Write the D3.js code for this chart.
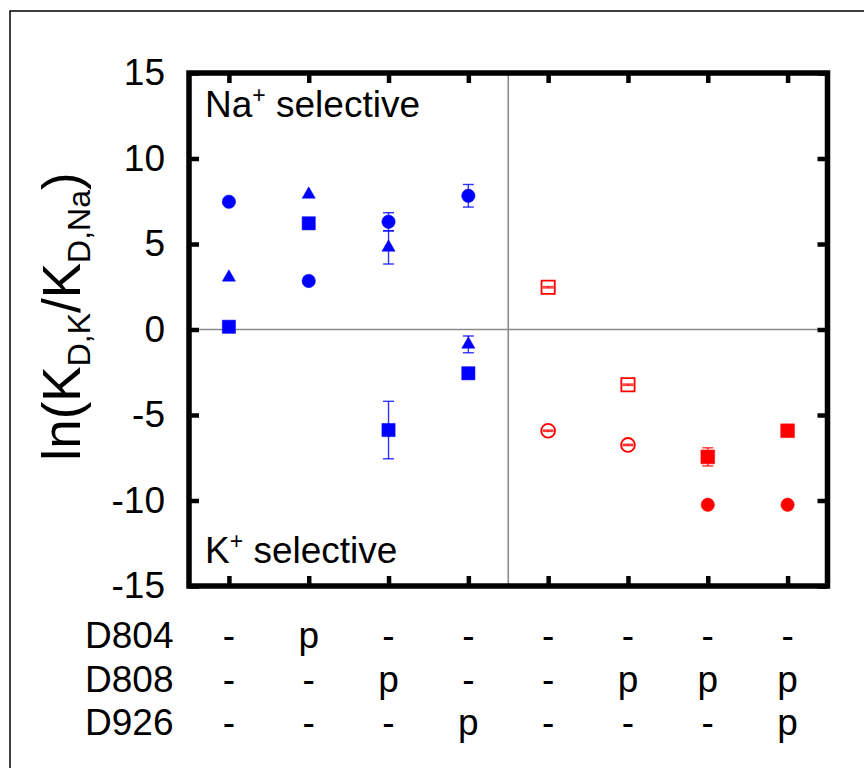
<!DOCTYPE html>
<html>
<head>
<meta charset="utf-8">
<script src="https://cdn.jsdelivr.net/npm/d3@7"></script>
<style>
  html, body { margin: 0; padding: 0; background: #fff; }
  svg { display: block; font-family: "Liberation Sans", Arial, Helvetica, sans-serif; }
</style>
</head>
<body>
<svg id="chart" width="864" height="768"></svg>
<script>
// ---- data ----
const columns = [1, 2, 3, 4, 5, 6, 7, 8];
const yTicks = [-15, -10, -5, 0, 5, 10, 15];
const yTickLabels = ["-15", "-10", "-5", "0", "5", "10", "15"];

// Blue (Na+ selective side)
const blueCircleX = [1, 2, 3, 4];
const blueCircleY = [7.47, 2.84, 6.3, 7.82];
const blueCircleErr = [0, 0, 0.53, 0.66];

const blueTriangleX = [1, 2, 3, 4];
const blueTriangleY = [3.05, 7.9, 4.8, -0.87];
const blueTriangleErr = [0, 0, 0.97, 0.49];

const blueSquareX = [1, 2, 3, 4];
const blueSquareY = [0.16, 6.21, -5.88, -2.56];
const blueSquareErr = [0, 0, 1.68, 0];

// Red (K+ selective side)
const redOpenSquareX = [5, 6];
const redOpenSquareY = [2.47, -3.23];
const redOpenSquareErr = [0.04, 0.04];

const redOpenCircleX = [5, 6];
const redOpenCircleY = [-5.92, -6.75];
const redOpenCircleErr = [0.04, 0.04];

const redSquareX = [7, 8];
const redSquareY = [-7.45, -5.92];
const redSquareErr = [0.53, 0];

const redCircleX = [7, 8];
const redCircleY = [-10.25, -10.25];
const redCircleErr = [0, 0];

// Mutation table
const rowLabels = ["D804", "D808", "D926"];
const rowD804 = ["-", "p", "-", "-", "-", "-", "-", "-"];
const rowD808 = ["-", "-", "p", "-", "-", "p", "p", "p"];
const rowD926 = ["-", "-", "-", "p", "-", "-", "-", "p"];
const tableRows = [rowD804, rowD808, rowD926];

// ---- layout ----
const svg = d3.select("#chart");
const x = d3.scaleLinear().domain([0.5, 8.5]).range([189, 827.5]);
const y = d3.scaleLinear().domain([-15, 15]).range([586, 73]);
const BLUE = "#0000ff", RED = "#ff0000";

// outer thin border
svg.append("rect").attr("x", 10).attr("y", 11).attr("width", 900).attr("height", 800)
  .attr("fill", "none").attr("stroke", "#000").attr("stroke-width", 1.5);

// gray reference lines
svg.append("line").attr("x1", x(0.5)).attr("x2", x(8.5)).attr("y1", y(0)).attr("y2", y(0))
  .attr("stroke", "#8a8a8a").attr("stroke-width", 1.6);
svg.append("line").attr("x1", x(4.5)).attr("x2", x(4.5)).attr("y1", y(15)).attr("y2", y(-15))
  .attr("stroke", "#8a8a8a").attr("stroke-width", 1.6);

// axes (ticks inward)
function styleAxis(g) {
  g.select(".domain").remove();
  g.selectAll(".tick line").attr("stroke", "#000").attr("stroke-width", 4.5);
  g.selectAll(".tick text").attr("fill", "#000")
    .style("font-family", "'Liberation Sans', Arial, sans-serif").style("font-size", "37px");
}
svg.append("g").attr("transform", `translate(${x(0.5)},0)`)
  .call(d3.axisLeft(y).tickValues(yTicks).tickSize(-10).tickPadding(24)
    .tickFormat((d, i) => yTickLabels[i]))
  .call(styleAxis);
svg.append("g").attr("transform", `translate(${x(8.5)},0)`)
  .call(d3.axisRight(y).tickValues(yTicks).tickSize(-10).tickFormat(""))
  .call(styleAxis);
svg.append("g").attr("transform", `translate(0,${y(15)})`)
  .call(d3.axisTop(x).tickValues(columns).tickSize(-10).tickFormat(""))
  .call(styleAxis);
svg.append("g").attr("transform", `translate(0,${y(-15)})`)
  .call(d3.axisBottom(x).tickValues(columns).tickSize(-10).tickFormat(""))
  .call(styleAxis);

// frame
svg.append("rect").attr("x", x(0.5)).attr("y", y(15))
  .attr("width", x(8.5) - x(0.5)).attr("height", y(-15) - y(15))
  .attr("fill", "none").attr("stroke", "#000").attr("stroke-width", 5.5);

// series drawing
function drawSeries(xs, ys, errs, color, symbolType, size, filled) {
  const data = xs.map((xv, i) => ({ x: xv, y: ys[i], e: errs[i] }));
  const g = svg.append("g");
  const eb = g.selectAll(".eb").data(data.filter(d => d.e > 0)).join("g");
  const capW = 5.5;
  eb.append("line").attr("x1", d => x(d.x)).attr("x2", d => x(d.x))
    .attr("y1", d => y(d.y + d.e)).attr("y2", d => y(d.y - d.e))
    .attr("stroke", color).attr("stroke-width", 1.4).attr("stroke-opacity", 0.8);
  [1, -1].forEach(s => {
    eb.append("line").attr("x1", d => x(d.x) - capW).attr("x2", d => x(d.x) + capW)
      .attr("y1", d => y(d.y + s * d.e)).attr("y2", d => y(d.y + s * d.e))
      .attr("stroke", color).attr("stroke-width", 1.4).attr("stroke-opacity", 0.8);
  });
  g.selectAll("path.m").data(data).join("path").attr("class", "m")
    .attr("d", d3.symbol().type(symbolType).size(size))
    .attr("transform", d => `translate(${x(d.x)},${y(d.y)})`)
    .attr("fill", filled ? color : "none")
    .attr("stroke", color).attr("stroke-width", filled ? 0.5 : 1.8);
}

drawSeries(blueCircleX, blueCircleY, blueCircleErr, BLUE, d3.symbolCircle, 141, true);
drawSeries(blueTriangleX, blueTriangleY, blueTriangleErr, BLUE, d3.symbolTriangle, 75, true);
drawSeries(blueSquareX, blueSquareY, blueSquareErr, BLUE, d3.symbolSquare, 175, true);
drawSeries(redOpenSquareX, redOpenSquareY, redOpenSquareErr, RED, d3.symbolSquare, 175, false);
drawSeries(redOpenCircleX, redOpenCircleY, redOpenCircleErr, RED, d3.symbolCircle, 150, false);
drawSeries(redSquareX, redSquareY, redSquareErr, RED, d3.symbolSquare, 190, true);
drawSeries(redCircleX, redCircleY, redCircleErr, RED, d3.symbolCircle, 141, true);

// annotations
const na = svg.append("text").attr("x", 205).attr("y", 116.5).attr("font-size", 37).attr("fill", "#000");
na.append("tspan").text("Na");
na.append("tspan").attr("font-size", 23).attr("dy", -14).text("+");
na.append("tspan").attr("dy", 14).text(" selective");

const k = svg.append("text").attr("x", 205).attr("y", 563).attr("font-size", 37).attr("fill", "#000");
k.append("tspan").text("K");
k.append("tspan").attr("font-size", 23).attr("dy", -14).text("+");
k.append("tspan").attr("dy", 14).text(" selective");

// y-axis label
const yl = svg.append("text").attr("transform", "translate(80,316.5) rotate(-90)")
  .attr("text-anchor", "middle").attr("font-size", 53).attr("fill", "#000");
yl.append("tspan").text("ln(K");
yl.append("tspan").attr("font-size", 32).attr("dy", 10).text("D,K");
yl.append("tspan").attr("dy", -10).text("/K");
yl.append("tspan").attr("font-size", 32).attr("dy", 10).text("D,Na");
yl.append("tspan").attr("dy", -10).text(")");

// table
const rowBaselines = [648, 691.5, 735];
rowLabels.forEach((lab, r) => {
  svg.append("text").attr("x", 85).attr("y", rowBaselines[r]).attr("font-size", 37)
    .attr("fill", "#000").text(lab);
  svg.append("g").selectAll("text").data(tableRows[r]).join("text")
    .attr("x", (d, i) => x(columns[i])).attr("y", rowBaselines[r])
    .attr("text-anchor", "middle").attr("font-size", 37).attr("fill", "#000")
    .text(d => d);
});
</script>
</body>
</html>
